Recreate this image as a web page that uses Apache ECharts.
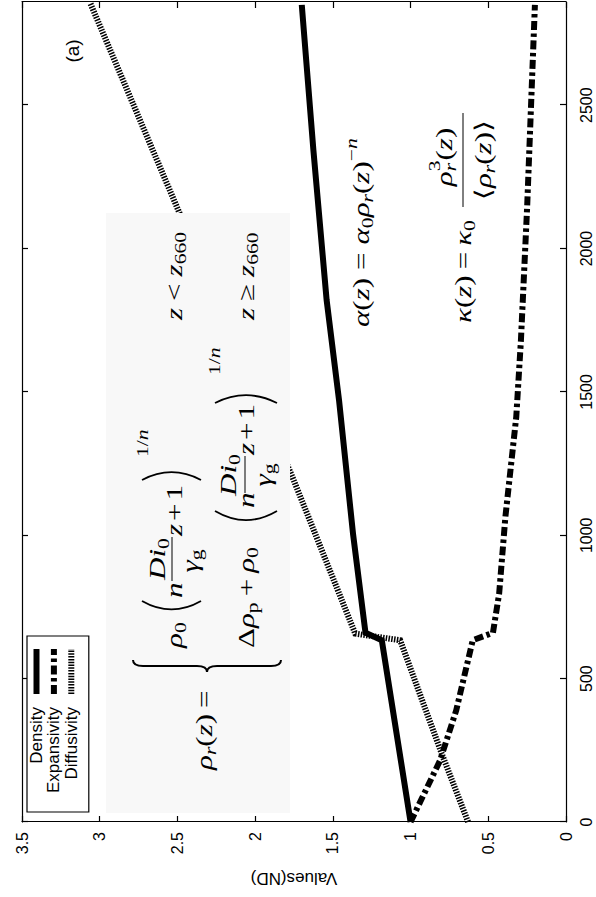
<!DOCTYPE html>
<html><head><meta charset="utf-8">
<script src="https://cdn.jsdelivr.net/npm/echarts@6/dist/echarts.min.js"></script>
<style>
html,body{margin:0;padding:0;background:#fff;overflow:hidden;width:596px;height:897px;}
#chart{position:absolute;left:0;top:0;width:897px;height:596px;transform-origin:0 0;transform:translateY(897px) rotate(-90deg);}
</style></head><body><div id="chart"></div>
<script>
// ---- data (depth in km, values non-dimensional) ----
const depthTicks = [0, 500, 1000, 1500, 2000, 2500];
const valueTicks = [0, 0.5, 1, 1.5, 2, 2.5, 3, 3.5];
const densityDepth = [0, 634, 660, 1004, 1470, 1820, 2342, 2850];
const densityValue = [1.0, 1.185, 1.29, 1.37, 1.46, 1.54, 1.625, 1.70];
const expansivityDepth = [0, 215, 390, 634, 660, 797, 1064, 1413, 1680, 2145, 2850];
const expansivityValue = [1.0, 0.81, 0.706, 0.60, 0.47, 0.43, 0.39, 0.32, 0.29, 0.25, 0.20];
const diffusivityDepth = [0, 239, 634, 657, 1203, 2128, 2855];
const diffusivityValue = [0.63, 0.80, 1.067, 1.356, 1.76, 2.49, 3.06];
const seriesNames = ['Density', 'Expansivity', 'Diffusivity'];

const SANS = '"Liberation Sans", Arial, Helvetica, sans-serif';
const SERIF = '"Liberation Serif", "Times New Roman", "DejaVu Serif", serif';
function pairs(d, v) { return d.map((x, i) => [x, v[i]]); }

// ---- math label helpers (original, unrotated chart coordinates) ----
const mctx = document.createElement('canvas').getContext('2d');
const MS = 23, SS = 16, SX = 1.35;
const ST = {
  I: {size: MS, it: true, dy: 0}, R: {size: MS, it: false, dy: 0},
  si: {size: SS, it: true, dy: 6.5}, sr: {size: SS, it: false, dy: 6.5},
  pi: {size: SS, it: true, dy: -9}, pr: {size: SS, it: false, dy: -9},
  i16: {size: SS, it: true, dy: 0}, r16: {size: SS, it: false, dy: 0}
};
function fnt(s) { return (s.it ? 'italic ' : '') + s.size + 'px ' + SERIF; }
function tw(txt, s) { mctx.font = fnt(ST[s]); return mctx.measureText(txt).width * SX; }
const G = [];
function tokW(tk) {
  if (typeof tk === 'number') return tk;
  if (tk.stack) return Math.max(...tk.stack.map(t => tw(t[0], t[1])));
  return tw(tk[0], tk[1]);
}
function put(x, y, txt, s) {
  const st = ST[s];
  G.push({type: 'text', x: x, y: y + st.dy, scaleX: SX, z: 110,
    style: {text: txt, font: fnt(st), fill: '#000', align: 'left', verticalAlign: 'middle'}});
}
function run(x, y, toks) {
  let cx = x;
  toks.forEach(tk => {
    if (typeof tk === 'number') { cx += tk; return; }
    if (tk.stack) { tk.stack.forEach(t => put(cx, y, t[0], t[1])); cx += tokW(tk); return; }
    put(cx, y, tk[0], tk[1]); cx += tokW(tk);
  });
  return cx;
}
function centered(cx, y, toks) { const w = toks.reduce((a, t) => a + tokW(t), 0); run(cx - w / 2, y, toks); }
function hline(x1, x2, y) { G.push({type: 'line', z: 110, shape: {x1: x1, y1: y, x2: x2, y2: y}, style: {stroke: '#000', lineWidth: 1}}); }
function curve(x1, y1, cx, cy, x2, y2, lw) {
  G.push({type: 'bezierCurve', z: 110, shape: {x1: x1, y1: y1, cpx1: cx, cpy1: cy, x2: x2, y2: y2},
    style: {stroke: '#000', lineWidth: lw || 1.6, fill: 'none'}});
}
function parenL(xl, xr, top, bot) { curve(xr, top, xl - (xr - xl) * 0.3, (top + bot) / 2, xr, bot, 1.8); }
function parenR(xl, xr, top, bot) { curve(xl, top, xr + (xr - xl) * 0.3, (top + bot) / 2, xl, bot, 1.8); }

// speckled equation panel
G.push({type: 'rect', z: 100, shape: {x: 84, y: 106, width: 600, height: 184}, style: {fill: '#f8f8f8'}});

// rho_r(z) =
run(127, 204, [['ρ', 'I'], ['r', 'si'], ['(', 'R'], ['z', 'I'], [')', 'R'], 6, ['=', 'R']]);
// brace
const bx = 225, bt = 133, bb = 281, bm = 207;
curve(bx + 12, bt, bx + 6, bt, bx + 6, bt + 10, 2);
G.push({type: 'line', z: 110, shape: {x1: bx + 6, y1: bt + 10, x2: bx + 6, y2: bm - 10}, style: {stroke: '#000', lineWidth: 2}});
curve(bx + 6, bm - 10, bx + 6, bm, bx, bm, 2);
curve(bx, bm, bx + 6, bm, bx + 6, bm + 10, 2);
G.push({type: 'line', z: 110, shape: {x1: bx + 6, y1: bm + 10, x2: bx + 6, y2: bb - 10}, style: {stroke: '#000', lineWidth: 2}});
curve(bx + 6, bb - 10, bx + 6, bb, bx + 12, bb, 2);

// row 1
const Y1 = 174;
run(249, Y1, [['ρ', 'I'], ['0', 'sr']]);
parenL(283, 296, 142, 201);
run(299, Y1, [['n', 'I']]);
centered(338, Y1 - 17, [['D', 'I'], ['i', 'I'], ['0', 'sr']]);
hline(316, 360, Y1 - 2);
centered(336, Y1 + 16, [['γ', 'I'], ['g', 'sr']]);
run(361, Y1, [['z', 'I'], 3, ['+', 'R'], 3, ['1', 'R']]);
parenR(417, 429, 142, 201);
run(440, 143, [['1/', 'r16'], ['n', 'i16']]);
run(577, Y1, [['z', 'I'], 7, ['<', 'R'], 7, ['z', 'I'], ['660', 'sr']]);

// row 2
const Y2 = 246;
run(249, Y2, [['Δ', 'R'], ['ρ', 'I'], ['p', 'sr'], 6, ['+', 'R'], 6, ['ρ', 'I'], ['0', 'sr']]);
parenL(372, 386, 215, 277);
run(389, Y2, [['n', 'I']]);
centered(422, Y2 - 18, [['D', 'I'], ['i', 'I'], ['0', 'sr']]);
hline(404, 441, Y2 - 1);
centered(422, Y2 + 17, [['γ', 'I'], ['g', 'sr']]);
run(442, Y2, [['z', 'I'], 3, ['+', 'R'], 3, ['1', 'R']]);
parenR(494, 506, 215, 277);
run(522, 215, [['1/', 'r16'], ['n', 'i16']]);
run(577, Y2, [['z', 'I'], 7, ['≥', 'R'], 7, ['z', 'I'], ['660', 'sr']]);

// alpha label
run(570, 361, [['α', 'I'], ['(', 'R'], ['z', 'I'], [')', 'R'], 8, ['=', 'R'], 8, ['α', 'I'], ['0', 'sr'],
  ['ρ', 'I'], ['r', 'si'], ['(', 'R'], ['z', 'I'], [')', 'R'], ['−', 'pr'], ['n', 'pi']]);
// kappa label
run(574, 463, [['κ', 'I'], ['(', 'R'], ['z', 'I'], [')', 'R'], 6, ['=', 'R'], 6, ['κ', 'I'], ['0', 'sr']]);
centered(740, 444, [['ρ', 'I'], {stack: [['r', 'si'], ['3', 'pr']]}, ['(', 'R'], ['z', 'I'], [')', 'R']]);
hline(690, 784, 463);
centered(737, 483, [['⟨', 'R'], ['ρ', 'I'], ['r', 'si'], ['(', 'R'], ['z', 'I'], [')', 'R'], ['⟩', 'R']]);

// panel tag
G.push({type: 'text', x: 846, y: 72, z: 110, style: {text: '(a)', font: '19px ' + SANS, fill: '#000', align: 'center', verticalAlign: 'middle'}});

const chart = echarts.init(document.getElementById('chart'), null, {renderer: 'svg', width: 897, height: 596});
const axisLine = {show: true, onZero: false, lineStyle: {color: '#000', width: 1.2}};
const tick = {show: true, inside: true, length: 6, lineStyle: {color: '#000', width: 1.2}};
const plain = v => String(v);
chart.setOption({
  animation: false,
  backgroundColor: '#fff',
  grid: {left: 75, right: 2, top: 22, bottom: 30, containLabel: false},
  legend: {
    orient: 'vertical', left: 85, top: 27, align: 'right', selectedMode: false,
    itemWidth: 45, itemHeight: 17, itemGap: 0.4, padding: [1, 10, 9, 19],
    borderColor: '#000', borderWidth: 1.2, backgroundColor: '#fff',
    itemStyle: {color: 'rgba(0,0,0,0)', borderWidth: 0, opacity: 0},
    lineStyle: {width: 6, color: '#000'},
    textStyle: {fontFamily: SANS, fontSize: 17, color: '#000', lineHeight: 17, padding: [0, 8, 0, 0]},
    data: seriesNames
  },
  xAxis: [
    {type: 'value', min: 0, max: 2860, interval: 500, position: 'bottom', axisLine: axisLine,
      axisTick: Object.assign({customValues: depthTicks}, tick),
      axisLabel: {customValues: depthTicks, formatter: plain, fontFamily: SANS, fontSize: 16, color: '#000', margin: 12},
      splitLine: {show: false}},
    {type: 'value', min: 0, max: 2860, interval: 500, position: 'top', axisLine: axisLine,
      axisTick: Object.assign({customValues: depthTicks}, tick), axisLabel: {show: false}, splitLine: {show: false}}
  ],
  yAxis: [
    {type: 'value', min: 0, max: 3.5, interval: 0.5, position: 'left', axisLine: axisLine,
      axisTick: Object.assign({customValues: valueTicks}, tick),
      axisLabel: {customValues: valueTicks, formatter: plain, fontFamily: SANS, fontSize: 16, color: '#000', margin: 10},
      name: 'Values(ND)', nameLocation: 'middle', nameGap: 48,
      nameTextStyle: {fontFamily: SANS, fontSize: 17, color: '#000'}, splitLine: {show: false}},
    {type: 'value', min: 0, max: 3.5, interval: 0.5, position: 'right', axisLine: axisLine, axisTick: tick,
      axisLabel: {show: false}, splitLine: {show: false}}
  ],
  series: [
    {name: seriesNames[0], type: 'line', data: pairs(densityDepth, densityValue), symbol: 'none', z: 3,
      itemStyle: {color: '#000'}, lineStyle: {color: '#000', width: 6, type: 'solid', cap: 'butt', join: 'miter'}},
    {name: seriesNames[1], type: 'line', data: pairs(expansivityDepth, expansivityValue), symbol: 'none', z: 3,
      itemStyle: {color: '#000'}, lineStyle: {color: '#000', width: 6, type: [9, 3.5, 3.5, 3.5], cap: 'butt', join: 'miter'}},
    {name: seriesNames[2], type: 'line', data: pairs(diffusivityDepth, diffusivityValue), symbol: 'none', z: 3,
      itemStyle: {color: '#000'}, lineStyle: {color: '#000', width: 6, type: [1.5, 1.3], cap: 'butt', join: 'miter'}}
  ],
  graphic: {elements: G}
});
</script></body></html>
